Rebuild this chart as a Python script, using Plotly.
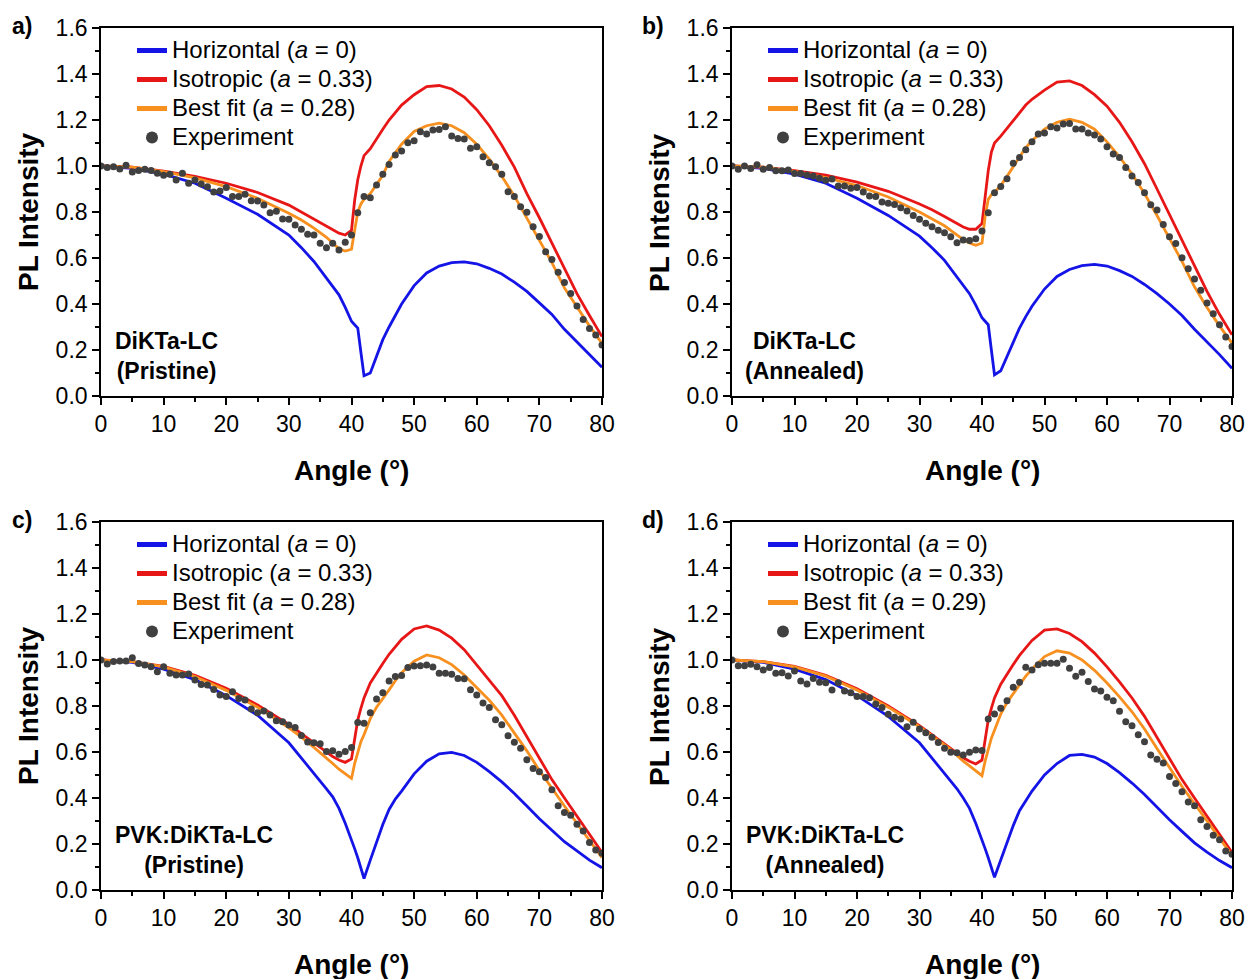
import plotly.graph_objects as go

# ---------------- data ----------------
# angle grid (deg) used for the simulated curves
theta_sim = [0, 5, 10, 15, 20, 25, 30, 32, 34, 35, 36, 37, 38, 39, 40, 40.5, 41, 41.5, 42,
             43, 44, 45, 46, 47, 48, 50, 52, 54, 56, 58, 60, 62, 64, 66, 68, 70, 72, 74, 76, 78, 80]
# measured angles (deg)
theta_exp = list(range(0, 81))

# (a) DiKTa-LC pristine
a_horizontal = [1.0, 0.99, 0.965, 0.925, 0.86, 0.79, 0.70, 0.645, 0.585, 0.55, 0.51, 0.475, 0.44, 0.385, 0.325,
                0.31, 0.295, 0.19, 0.088, 0.10, 0.17, 0.245, 0.30, 0.35, 0.40, 0.48, 0.535, 0.565, 0.58, 0.583,
                0.575, 0.555, 0.53, 0.495, 0.455, 0.405, 0.355, 0.29, 0.235, 0.18, 0.125]
a_isotropic = [1.0, 0.995, 0.978, 0.955, 0.925, 0.885, 0.83, 0.80, 0.77, 0.755, 0.74, 0.725, 0.708, 0.70, 0.72,
               0.85, 0.94, 1.0, 1.045, 1.075, 1.12, 1.16, 1.20, 1.235, 1.265, 1.31, 1.345, 1.35, 1.335, 1.30,
               1.245, 1.175, 1.09, 0.995, 0.88, 0.775, 0.665, 0.555, 0.445, 0.35, 0.258]
a_bestfit = [1.0, 0.995, 0.975, 0.948, 0.91, 0.86, 0.795, 0.765, 0.73, 0.71, 0.69, 0.665, 0.64, 0.63, 0.638,
             0.72, 0.80, 0.835, 0.855, 0.88, 0.92, 0.96, 1.02, 1.06, 1.095, 1.15, 1.175, 1.186, 1.175, 1.145,
             1.095, 1.03, 0.955, 0.87, 0.775, 0.68, 0.58, 0.47, 0.385, 0.305, 0.229]
a_experiment = [1.0, 0.993, 0.997, 0.987, 1.003, 0.974, 0.980, 0.986, 0.980, 0.968, 0.960, 0.964, 0.939, 0.968,
                0.925, 0.939, 0.922, 0.910, 0.887, 0.891, 0.906, 0.867, 0.867, 0.877, 0.849, 0.848, 0.830, 0.797,
                0.803, 0.770, 0.768, 0.743, 0.725, 0.703, 0.700, 0.664, 0.645, 0.664, 0.635, 0.668, 0.700,
                0.797, 0.867, 0.862, 0.917, 0.964, 1.007, 1.048, 1.065, 1.101, 1.110,
                1.149, 1.139, 1.157, 1.159, 1.171, 1.130, 1.120, 1.117, 1.077, 1.084,
                1.040, 1.014, 0.997, 0.964, 0.888, 0.867, 0.823, 0.799, 0.736, 0.693,
                0.627, 0.594, 0.538, 0.493, 0.446, 0.391, 0.333, 0.294, 0.265, 0.222]

# (b) DiKTa-LC annealed
b_horizontal = [1.0, 0.99, 0.965, 0.925, 0.86, 0.785, 0.695, 0.645, 0.59, 0.555, 0.515, 0.48, 0.445, 0.395, 0.34,
                0.325, 0.31, 0.2, 0.092, 0.11, 0.17, 0.235, 0.295, 0.345, 0.39, 0.465, 0.52, 0.55, 0.567, 0.572,
                0.565, 0.545, 0.52, 0.485, 0.445, 0.40, 0.35, 0.29, 0.235, 0.18, 0.12]
b_isotropic = [1.0, 0.995, 0.98, 0.96, 0.93, 0.89, 0.835, 0.81, 0.78, 0.765, 0.75, 0.735, 0.725, 0.725, 0.75,
               0.87, 0.98, 1.06, 1.10, 1.13, 1.165, 1.20, 1.235, 1.265, 1.29, 1.33, 1.365, 1.37, 1.35, 1.31,
               1.26, 1.19, 1.105, 1.01, 0.90, 0.79, 0.68, 0.565, 0.455, 0.355, 0.266]
b_bestfit = [1.0, 0.995, 0.977, 0.95, 0.915, 0.865, 0.80, 0.77, 0.74, 0.72, 0.70, 0.68, 0.665, 0.655, 0.665,
             0.78, 0.855, 0.875, 0.885, 0.915, 0.955, 0.995, 1.04, 1.08, 1.11, 1.16, 1.19, 1.204, 1.19, 1.16,
             1.105, 1.04, 0.965, 0.88, 0.785, 0.685, 0.585, 0.475, 0.385, 0.305, 0.23]
b_experiment = [1.0, 0.986, 1.0, 0.989, 1.005, 0.986, 0.993, 0.979, 0.979, 0.983, 0.967, 0.967, 0.961, 0.957,
                0.947, 0.938, 0.943, 0.913, 0.913, 0.903, 0.906, 0.887, 0.870, 0.867, 0.844, 0.838, 0.833, 0.819,
                0.804, 0.785, 0.768, 0.751, 0.736, 0.721, 0.710, 0.692, 0.666, 0.678, 0.676, 0.684, 0.717,
                0.797, 0.884, 0.911, 0.945, 1.012, 1.037, 1.071, 1.105, 1.139, 1.143,
                1.171, 1.165, 1.183, 1.185, 1.161, 1.161, 1.143, 1.135, 1.117, 1.084,
                1.052, 1.037, 0.993, 0.957, 0.928, 0.884, 0.831, 0.809, 0.746, 0.692,
                0.663, 0.601, 0.553, 0.509, 0.460, 0.404, 0.358, 0.310, 0.256, 0.215]

# (c) PVK:DiKTa-LC pristine
c_horizontal = [1.0, 0.99, 0.96, 0.915, 0.845, 0.76, 0.64, 0.575, 0.51, 0.475, 0.44, 0.405, 0.355, 0.29, 0.22,
                0.18, 0.14, 0.095, 0.05, 0.13, 0.21, 0.285, 0.35, 0.395, 0.43, 0.505, 0.56, 0.592, 0.598, 0.585,
                0.555, 0.515, 0.47, 0.42, 0.365, 0.31, 0.26, 0.21, 0.17, 0.13, 0.097]
c_isotropic = [1.0, 0.993, 0.972, 0.933, 0.877, 0.805, 0.72, 0.68, 0.64, 0.62, 0.60, 0.58, 0.565, 0.555, 0.57,
               0.66, 0.74, 0.79, 0.835, 0.90, 0.945, 0.985, 1.025, 1.06, 1.09, 1.135, 1.148, 1.13, 1.095, 1.045,
               0.98, 0.915, 0.845, 0.76, 0.665, 0.57, 0.48, 0.40, 0.32, 0.24, 0.163]
c_bestfit = [1.0, 0.993, 0.97, 0.928, 0.868, 0.795, 0.705, 0.665, 0.62, 0.598, 0.575, 0.55, 0.525, 0.505, 0.485,
             0.55, 0.60, 0.645, 0.675, 0.745, 0.795, 0.83, 0.87, 0.91, 0.945, 0.995, 1.022, 1.01, 0.98, 0.935,
             0.88, 0.825, 0.76, 0.685, 0.605, 0.52, 0.44, 0.365, 0.29, 0.215, 0.141]
c_experiment = [1.0, 0.983, 0.993, 0.996, 0.996, 1.010, 0.985, 0.978, 0.971, 0.949, 0.971, 0.942, 0.935, 0.935,
                0.939, 0.913, 0.894, 0.891, 0.872, 0.848, 0.841, 0.862, 0.833, 0.826, 0.787, 0.771, 0.778, 0.761,
                0.736, 0.732, 0.717, 0.706, 0.672, 0.644, 0.640, 0.636, 0.602, 0.605, 0.590, 0.602, 0.620,
                0.728, 0.725, 0.771, 0.830, 0.858, 0.909, 0.928, 0.933, 0.967, 0.974,
                0.975, 0.978, 0.970, 0.942, 0.942, 0.938, 0.920, 0.918, 0.871, 0.848,
                0.813, 0.794, 0.740, 0.719, 0.671, 0.642, 0.616, 0.566, 0.528, 0.514,
                0.489, 0.436, 0.366, 0.337, 0.325, 0.286, 0.257, 0.206, 0.174, 0.160]

# (d) PVK:DiKTa-LC annealed
d_horizontal = [1.0, 0.99, 0.96, 0.915, 0.845, 0.755, 0.64, 0.575, 0.51, 0.475, 0.44, 0.40, 0.355, 0.29, 0.22,
                0.18, 0.14, 0.095, 0.055, 0.13, 0.21, 0.28, 0.345, 0.39, 0.43, 0.50, 0.55, 0.585, 0.59, 0.578,
                0.55, 0.51, 0.465, 0.415, 0.36, 0.305, 0.255, 0.205, 0.165, 0.128, 0.097]
d_isotropic = [1.0, 0.993, 0.972, 0.933, 0.875, 0.80, 0.715, 0.675, 0.635, 0.615, 0.595, 0.575, 0.56, 0.548, 0.565,
               0.66, 0.74, 0.79, 0.835, 0.895, 0.94, 0.98, 1.02, 1.055, 1.085, 1.13, 1.135, 1.115, 1.08, 1.03,
               0.97, 0.905, 0.835, 0.755, 0.665, 0.57, 0.48, 0.40, 0.32, 0.24, 0.163]
d_bestfit = [1.0, 0.993, 0.97, 0.93, 0.87, 0.795, 0.71, 0.67, 0.63, 0.61, 0.585, 0.56, 0.54, 0.52, 0.497,
             0.56, 0.615, 0.66, 0.695, 0.765, 0.815, 0.855, 0.89, 0.93, 0.96, 1.015, 1.04, 1.03, 1.0, 0.955,
             0.90, 0.84, 0.775, 0.70, 0.615, 0.53, 0.45, 0.375, 0.30, 0.225, 0.15]
d_experiment = [1.0, 0.975, 0.975, 0.981, 0.971, 0.957, 0.967, 0.942, 0.945, 0.930, 0.952, 0.909, 0.896, 0.920,
                0.903, 0.901, 0.870, 0.901, 0.865, 0.858, 0.841, 0.841, 0.836, 0.809, 0.794, 0.764, 0.751, 0.743,
                0.710, 0.729, 0.700, 0.684, 0.664, 0.641, 0.616, 0.599, 0.597, 0.587, 0.599, 0.609, 0.606,
                0.743, 0.765, 0.790, 0.823, 0.881, 0.903, 0.968, 0.957, 0.979, 0.986,
                0.986, 0.986, 1.003, 0.964, 0.929, 0.947, 0.906, 0.874, 0.865, 0.838,
                0.823, 0.777, 0.732, 0.714, 0.675, 0.645, 0.587, 0.569, 0.552, 0.494,
                0.463, 0.427, 0.383, 0.366, 0.305, 0.276, 0.238, 0.218, 0.170, 0.155]

panel_letters = ["a)", "b)", "c)", "d)"]
sample_names = ["DiKTa-LC<br>(Pristine)", "DiKTa-LC<br>(Annealed)",
                "PVK:DiKTa-LC<br>(Pristine)", "PVK:DiKTa-LC<br>(Annealed)"]
fit_values = ["0.28", "0.28", "0.28", "0.29"]
x_ticks = [0, 10, 20, 30, 40, 50, 60, 70, 80]
y_ticks = [0.0, 0.2, 0.4, 0.6, 0.8, 1.0, 1.2, 1.4, 1.6]

panels = [
    (a_horizontal, a_isotropic, a_bestfit, a_experiment),
    (b_horizontal, b_isotropic, b_bestfit, b_experiment),
    (c_horizontal, c_isotropic, c_bestfit, c_experiment),
    (d_horizontal, d_isotropic, d_bestfit, d_experiment),
]

# ---------------- styling / layout ----------------
W, H = 1247, 979
FONT = "Arial, 'Liberation Sans', Helvetica, sans-serif"
BLUE, RED, ORANGE, GREY = "#1414e6", "#e81717", "#f7901e", "#404040"


def px(x):
    return x / W


def py(y):
    return 1 - y / H


def legend_label(text):
    # larger glyphs than the legend's row pitch, so the rows stay compact
    return '<span style="font-size:24px">%s</span>' % text


# plot-area boxes in pixels: (left, right, top, bottom)
boxes = [(101, 602, 28, 396), (732, 1232, 28, 396),
         (101, 602, 522, 890), (732, 1232, 522, 890)]
# centre of the two-line sample label inside each panel
label_centres = [(166, 356), (804, 356), (194, 850), (825, 850)]

fig = go.Figure()
annotations = []
layout_extra = {}

for i, (hor, iso, fit, exp) in enumerate(panels):
    n = "" if i == 0 else str(i + 1)
    xa, ya = "x" + n, "y" + n
    leg = "legend" + n
    left, right, top, bottom = boxes[i]

    fig.add_trace(go.Scatter(x=theta_sim, y=hor, mode="lines", xaxis=xa, yaxis=ya,
                             line=dict(color=BLUE, width=2.8), legend=leg,
                             name=legend_label("Horizontal (<i>a</i> = 0)")))
    fig.add_trace(go.Scatter(x=theta_sim, y=iso, mode="lines", xaxis=xa, yaxis=ya,
                             line=dict(color=RED, width=2.8), legend=leg,
                             name=legend_label("Isotropic (<i>a</i> = 0.33)")))
    fig.add_trace(go.Scatter(x=theta_sim, y=fit, mode="lines", xaxis=xa, yaxis=ya,
                             line=dict(color=ORANGE, width=2.8), legend=leg,
                             name=legend_label("Best fit (<i>a</i> = %s)" % fit_values[i])))
    fig.add_trace(go.Scatter(x=theta_exp, y=exp, mode="markers", xaxis=xa, yaxis=ya,
                             marker=dict(color=GREY, size=7), legend=leg,
                             name=legend_label("Experiment")))

    axis_common = dict(showline=True, linecolor="black", linewidth=1.6, mirror=True,
                       ticks="outside", ticklen=7, tickwidth=1.5, tickcolor="black",
                       showgrid=False, zeroline=False, automargin=False,
                       tickfont=dict(family=FONT, size=23, color="black"))
    layout_extra["xaxis" + n] = dict(axis_common, domain=[px(left), px(right)], anchor=ya,
                                     range=[0, 80], tickvals=x_ticks,
                                     minor=dict(dtick=5, ticks="outside", ticklen=4,
                                                tickwidth=1.5, tickcolor="black"))
    layout_extra["yaxis" + n] = dict(axis_common, domain=[py(bottom), py(top)], anchor=xa,
                                     range=[0, 1.6], tickvals=y_ticks, tickformat=".1f",
                                     minor=dict(dtick=0.1, ticks="outside", ticklen=4,
                                                tickwidth=1.5, tickcolor="black"))
    layout_extra[leg] = dict(x=px(left + 31), y=py(top + 3), xanchor="left", yanchor="top",
                             bgcolor="rgba(0,0,0,0)", borderwidth=0,
                             font=dict(family=FONT, size=20, color="black"),
                             tracegroupgap=0, itemsizing="constant")

    cx = (left + right) / 2
    annotations += [
        dict(text="<b>Angle (°)</b>", x=px(cx), y=py(bottom + 74), xanchor="center",
             yanchor="middle", xref="paper", yref="paper", showarrow=False,
             font=dict(family=FONT, size=28, color="black")),
        dict(text="<b>PL Intensity</b>", x=px(left - 73), y=py((top + bottom) / 2),
             xanchor="center", yanchor="middle", xref="paper", yref="paper", textangle=-90,
             showarrow=False, font=dict(family=FONT, size=28, color="black")),
        dict(text="<b>%s</b>" % panel_letters[i], x=px(left - 79), y=py(top - 2),
             xanchor="center", yanchor="middle", xref="paper", yref="paper", showarrow=False,
             font=dict(family=FONT, size=23, color="black")),
        dict(text="<b>%s</b>" % sample_names[i], x=px(label_centres[i][0]),
             y=py(label_centres[i][1]), xanchor="center", yanchor="middle",
             xref="paper", yref="paper", showarrow=False, align="center",
             font=dict(family=FONT, size=23, color="black")),
    ]

fig.update_layout(
    width=W, height=H,
    margin=dict(l=0, r=0, t=0, b=0, pad=0, autoexpand=False),
    paper_bgcolor="white", plot_bgcolor="white",
    annotations=annotations,
    **layout_extra,
)

fig.write_html("out.html")
